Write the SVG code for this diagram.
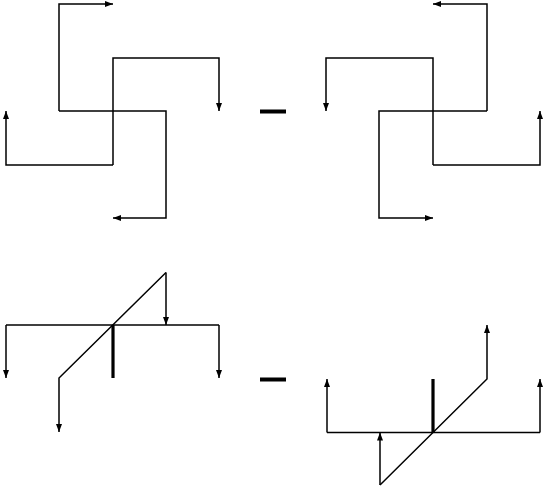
<svg xmlns="http://www.w3.org/2000/svg" width="545" height="489" viewBox="0 0 545 489">
<style>
.l{fill:none;stroke:#000;stroke-width:1.5;stroke-linejoin:miter;marker-end:url(#ah)}
.n{fill:none;stroke:#000;stroke-width:1.5}
.t{fill:none;stroke:#000;stroke-width:3.2}
.m{fill:#000}
</style>
<defs>
<marker id="ah" markerUnits="userSpaceOnUse" markerWidth="9" markerHeight="7" refX="8" refY="3" orient="auto" viewBox="0 0 9 6">
<path d="M0,0 L8,3 L0,6 z" fill="#000"/>
</marker>
</defs>
<rect width="545" height="489" fill="#fff"/>
<g id="fig-top-left">
<path class="l" d="M59,111 V4 H113"/>
<path class="l" d="M113,165 V58 H219 V111"/>
<path class="l" d="M59,111 H166 V218 H113"/>
<path class="l" d="M113,165 H6 V111"/>
</g>
<g id="minus-top"><rect class="m" x="260" y="109.5" width="26" height="4"/></g>
<g id="fig-top-right">
<path class="l" d="M487,111 V4 H433"/>
<path class="l" d="M487,111 H379 V218 H433"/>
<path class="l" d="M433,165 V58 H326 V111"/>
<path class="l" d="M433,165 H540 V111"/>
</g>
<g id="fig-bottom-left">
<path class="n" d="M6,325 H219"/>
<path class="l" d="M6,325 V378"/>
<path class="l" d="M219,325 V378"/>
<path class="l" d="M166,272.5 L59,378 V432"/>
<path class="l" d="M166,272.5 V325"/>
<path class="t" d="M113,325 V378"/>
</g>
<g id="minus-bottom"><rect class="m" x="260" y="377.5" width="26" height="4"/></g>
<g id="fig-bottom-right">
<path class="n" d="M327,432.5 H540"/>
<path class="l" d="M327,432.5 V379"/>
<path class="l" d="M540,432.5 V379"/>
<path class="l" d="M380,485 L487,379 V325"/>
<path class="l" d="M380,485 V432.5"/>
<path class="t" d="M433,379 V432.5"/>
</g>
</svg>
